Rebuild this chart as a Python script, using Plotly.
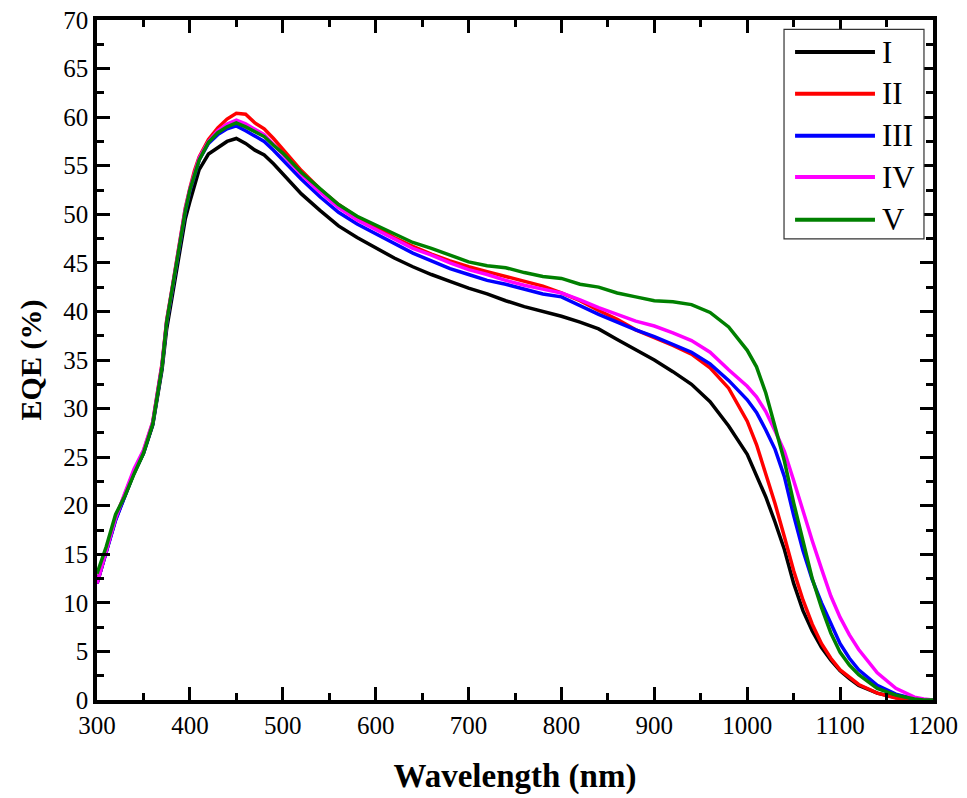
import plotly.graph_objects as go

wavelength = [300, 310, 320, 330, 340, 350, 360, 370, 375, 380, 385, 390, 395, 400, 405, 410,
              420, 430, 440, 450, 460, 470, 480, 490, 500, 520, 540, 560, 580, 600,
              620, 640, 660, 680, 700, 720, 740, 760, 780, 800, 820, 840, 860, 880, 900,
              920, 940, 960, 980, 1000, 1010, 1020, 1030, 1040, 1050, 1060, 1070, 1080, 1090, 1100,
              1110, 1120, 1140, 1160, 1180, 1190, 1200]

eqe_I = [12.0, 15.3, 18.6, 21.0, 23.4, 25.4, 28.3, 34.0, 38.2, 41.0, 43.8, 46.8, 49.5, 51.3, 53.0, 54.6,
         56.2, 56.9, 57.5, 57.8, 57.3, 56.6, 56.1, 55.2, 54.2, 52.1, 50.4, 48.8, 47.6, 46.5,
         45.5, 44.6, 43.8, 43.1, 42.4, 41.8, 41.1, 40.5, 40.0, 39.5, 38.9, 38.2, 37.1, 36.1, 35.0,
         33.8, 32.5, 30.7, 28.2, 25.3, 23.0, 20.9, 18.3, 15.5, 12.0, 9.2, 7.1, 5.4, 4.1, 3.0,
         2.2, 1.5, 0.7, 0.25, 0.05, 0.0, 0.0]

eqe_II = [12.0, 15.3, 18.8, 21.2, 23.6, 25.6, 28.6, 34.6, 39.1, 41.9, 44.8, 48.0, 50.6, 52.7, 54.5, 55.9,
          57.7, 58.9, 59.8, 60.4, 60.3, 59.4, 58.8, 57.8, 56.7, 54.5, 52.6, 51.0, 49.7, 48.6,
          47.6, 46.7, 45.9, 45.2, 44.6, 44.1, 43.6, 43.1, 42.6, 41.9, 41.1, 40.1, 39.2, 38.1, 37.3,
          36.5, 35.6, 34.2, 32.1, 28.7, 26.3, 23.3, 20.2, 16.8, 13.3, 10.3, 7.8, 5.8, 4.3, 3.1,
          2.3, 1.6, 0.7, 0.2, 0.05, 0.0, 0.0]

eqe_III = [12.0, 15.2, 18.5, 21.0, 23.4, 25.4, 28.4, 34.3, 38.8, 41.6, 44.5, 47.6, 50.2, 52.4, 54.1, 55.6,
           57.3, 58.2, 58.8, 59.1, 58.6, 58.0, 57.5, 56.6, 55.6, 53.6, 51.8, 50.2, 49.0, 48.0,
           47.0, 46.0, 45.2, 44.4, 43.8, 43.2, 42.8, 42.3, 41.8, 41.5, 40.6, 39.7, 38.9, 38.1, 37.4,
           36.6, 35.8, 34.6, 32.9, 30.9, 29.6, 27.8, 25.8, 23.0, 19.0, 15.4, 12.4, 10.0, 7.8, 5.8,
           4.3, 3.1, 1.5, 0.6, 0.1, 0.0, 0.0]

eqe_IV = [12.0, 15.4, 18.7, 21.3, 23.8, 25.7, 28.6, 34.5, 39.0, 41.8, 44.7, 47.9, 50.5, 52.6, 54.3, 55.8,
          57.5, 58.6, 59.3, 59.7, 59.3, 58.8, 58.2, 57.2, 56.2, 54.1, 52.3, 50.7, 49.4, 48.4,
          47.4, 46.5, 45.8, 45.0, 44.3, 43.8, 43.2, 42.7, 42.3, 41.9, 41.2, 40.4, 39.7, 39.0, 38.5,
          37.8, 37.0, 35.8, 34.0, 32.3, 31.2, 29.7, 27.7, 25.6, 22.6, 19.4, 16.4, 13.5, 10.7, 8.5,
          6.7, 5.2, 2.8, 1.2, 0.3, 0.1, 0.0]

eqe_V = [13.0, 15.8, 19.1, 21.0, 23.3, 25.4, 28.4, 34.3, 38.9, 41.7, 44.6, 47.7, 50.3, 52.5, 54.2, 55.6,
         57.4, 58.4, 59.0, 59.4, 59.0, 58.5, 58.0, 57.1, 56.3, 54.3, 52.6, 51.0, 49.8, 48.9,
         48.0, 47.1, 46.5, 45.8, 45.1, 44.7, 44.5, 44.0, 43.6, 43.4, 42.8, 42.5, 41.9, 41.5, 41.1,
         41.0, 40.7, 39.9, 38.4, 36.0, 34.3, 31.6, 28.2, 24.6, 20.3, 16.4, 12.5, 9.5, 6.9, 4.9,
         3.6, 2.6, 1.2, 0.5, 0.1, 0.0, 0.0]

series_names = ["I", "II", "III", "IV", "V"]
series_values = [eqe_I, eqe_II, eqe_III, eqe_IV, eqe_V]
series_colors = ["#000000", "#ff0000", "#0000ff", "#ff00ff", "#008000"]

x_ticks = [300, 400, 500, 600, 700, 800, 900, 1000, 1100, 1200]
y_ticks = list(range(0, 71, 5))

FONT = "Liberation Serif, Times New Roman, serif"

fig = go.Figure()
for name, vals, col in zip(series_names, series_values, series_colors):
    fig.add_trace(go.Scatter(x=wavelength, y=vals, mode="lines", name=name,
                             line=dict(color=col, width=3.5), showlegend=False))

# Custom legend (box, sample lines, labels) in paper coordinates
lx0, lx1, ly0, ly1 = 0.8218, 0.9892, 0.678, 0.9863
fig.add_shape(type="rect", xref="paper", yref="paper", x0=lx0, x1=lx1, y0=ly0, y1=ly1,
              line=dict(color="#333333", width=1.2), fillcolor="white", layer="above")
entry_y = [0.9529, 0.8916, 0.8299, 0.7691, 0.7063]
for name, col, yy in zip(series_names, series_colors, entry_y):
    fig.add_shape(type="line", xref="paper", yref="paper", x0=0.835, x1=0.9306, y0=yy, y1=yy,
                  line=dict(color=col, width=4), layer="above")
    fig.add_annotation(xref="paper", yref="paper", x=0.9366, y=yy, text=name, showarrow=False,
                       xanchor="left", yanchor="middle", font=dict(family=FONT, size=31, color="black"))

axis_common = dict(
    showgrid=False, zeroline=False, showline=True, linecolor="black", linewidth=3.5,
    mirror="ticks", ticks="inside", tickcolor="black", tickwidth=3, ticklen=13,
    tickfont=dict(family=FONT, size=25, color="black"),
)

fig.update_xaxes(range=[300, 1200], tickvals=x_ticks, ticktext=[str(v) for v in x_ticks],
                 minor=dict(ticks="inside", dtick=50, tick0=300, ticklen=7, tickwidth=3, tickcolor="black"),
                 title=dict(text="<b>Wavelength (nm)</b>", font=dict(family=FONT, size=33, color="black"),
                            standoff=27),
                 **axis_common)
fig.update_yaxes(range=[0, 70], tickvals=y_ticks, ticktext=[str(v) for v in y_ticks],
                 minor=dict(ticks="inside", dtick=2.5, tick0=0, ticklen=7, tickwidth=3, tickcolor="black"),
                 title=dict(text="<b>EQE (%)</b>", font=dict(family=FONT, size=30, color="black"),
                            standoff=14),
                 **axis_common)

fig.update_layout(
    width=967, height=798,
    margin=dict(l=97, r=34, t=20, b=98, autoexpand=False),
    paper_bgcolor="white", plot_bgcolor="white",
    showlegend=False,
)

fig.write_html("out.html")
